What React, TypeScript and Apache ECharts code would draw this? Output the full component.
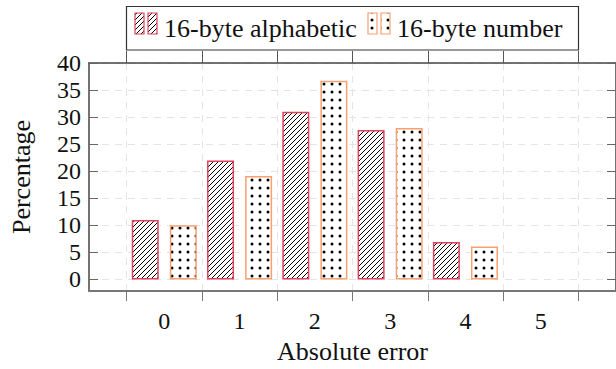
import React, { useEffect, useRef } from "react";
import * as echarts from "echarts";

const categories = [0, 1, 2, 3, 4, 5];
const alphabetic = [11, 22, 31, 27.6, 6.9, 0];
const numberVals = [10, 19.1, 36.7, 28, 6.1, 0];
const yTicks = [0, 5, 10, 15, 20, 25, 30, 35, 40];
const xBoundaries = [-0.5, 0.5, 1.5, 2.5, 3.5, 4.5, 5.5];
const seriesNames = ["16-byte alphabetic", "16-byte number"];

const RED = "#e0405a";
const ORANGE = "#f8a070";
const FONT = "Liberation Serif";

function hatchCanvas() {
  const c = document.createElement("canvas");
  const s = 5;
  c.width = s;
  c.height = s;
  const ctx = c.getContext("2d")!;
  ctx.fillStyle = "#ffffff";
  ctx.fillRect(0, 0, s, s);
  ctx.strokeStyle = "#000000";
  ctx.lineWidth = 1;
  ctx.beginPath();
  ctx.moveTo(-1, s + 1);
  ctx.lineTo(s + 1, -1);
  ctx.moveTo(-1, 1);
  ctx.lineTo(1, -1);
  ctx.moveTo(s - 1, s + 1);
  ctx.lineTo(s + 1, s - 1);
  ctx.stroke();
  return c;
}

function dotCanvas() {
  const c = document.createElement("canvas");
  const s = 8;
  c.width = s;
  c.height = s;
  const ctx = c.getContext("2d")!;
  ctx.fillStyle = "#ffffff";
  ctx.fillRect(0, 0, s, s);
  ctx.fillStyle = "#000000";
  ctx.beginPath();
  ctx.arc(4, 4, 1.5, 0, Math.PI * 2);
  ctx.fill();
  return c;
}

export default function App() {
  const ref = useRef<HTMLDivElement>(null);
  useEffect(() => {
    if (!ref.current) return;
    const chart = echarts.init(ref.current, undefined, { renderer: "svg" });
    const hatch = { image: hatchCanvas(), repeat: "repeat" } as any;
    const dots = { image: dotCanvas(), repeat: "repeat" } as any;

    const toData = (vals: number[]) =>
      categories
        .map((c, i) => [c, vals[i]])
        .filter((d) => d[1] !== 0);

    const gridLine = {
      show: true,
      lineStyle: { color: "#e4e4e4", type: [7, 6] as any, width: 1 },
    };

    const legendText = (x: number, text: string) => ({
      type: "text",
      x,
      y: 28,
      style: {
        text,
        fontFamily: FONT,
        fontSize: 26,
        fill: "#111111",
        verticalAlign: "middle",
      },
      z: 101,
    });

    const legendIcon = (x: number, fill: any, stroke: string) => ({
      type: "rect",
      shape: { x, y: 13, width: 9, height: 21 },
      style: { fill, stroke, lineWidth: 1.2 },
      z: 101,
    });

    chart.setOption({
      animation: false,
      backgroundColor: "#ffffff",
      textStyle: { fontFamily: FONT },
      grid: { left: 89, right: 0, top: 63, bottom: 69, show: false },
      xAxis: [
        {
          type: "value",
          position: "bottom",
          min: -1,
          max: 6,
          axisLine: { show: true, onZero: false, lineStyle: { color: "#777777", width: 2 } },
          axisTick: {
            show: true,
            customValues: xBoundaries,
            inside: false,
            length: 10,
            lineStyle: { color: "#777777", width: 1 },
          },
          axisLabel: {
            customValues: categories,
            fontFamily: FONT,
            fontSize: 24,
            color: "#111111",
            margin: 18,
          },
          splitLine: gridLine,
          name: "Absolute error",
          nameLocation: "middle",
          nameGap: 38,
          nameTextStyle: { fontFamily: FONT, fontSize: 26, color: "#111111" },
        },
        {
          type: "value",
          position: "top",
          min: -1,
          max: 6,
          axisLine: { show: true, onZero: false, lineStyle: { color: "#444444", width: 1.5 } },
          axisTick: {
            show: true,
            customValues: xBoundaries,
            inside: false,
            length: 12,
            lineStyle: { color: "#555555", width: 1 },
          },
          axisLabel: { show: false },
          splitLine: { show: false },
        },
      ],
      yAxis: [
        {
          type: "value",
          position: "left",
          min: -2.15,
          max: 40,
          axisLine: { show: true, onZero: false, lineStyle: { color: "#444444", width: 1.5 } },
          axisTick: {
            show: true,
            customValues: yTicks,
            inside: true,
            length: 9,
            lineStyle: { color: "#666666", width: 1 },
          },
          axisLabel: {
            customValues: yTicks,
            fontFamily: FONT,
            fontSize: 24,
            color: "#111111",
            margin: 8,
          },
          splitLine: gridLine,
          name: "Percentage",
          nameLocation: "middle",
          nameRotate: 90,
          nameGap: 55,
          nameTextStyle: { fontFamily: FONT, fontSize: 26, color: "#111111" },
        },
        {
          type: "value",
          position: "right",
          min: -2.15,
          max: 40,
          axisLine: { show: true, onZero: false, lineStyle: { color: "#444444", width: 1.5 } },
          axisTick: {
            show: true,
            customValues: yTicks,
            inside: true,
            length: 9,
            lineStyle: { color: "#666666", width: 1 },
          },
          axisLabel: { show: false },
          splitLine: { show: false },
        },
      ],
      series: [
        {
          name: seriesNames[0],
          type: "bar",
          xAxisIndex: 0,
          yAxisIndex: 0,
          barWidth: 27,
          barGap: "41%",
          data: toData(alphabetic),
          itemStyle: { color: hatch, borderColor: RED, borderWidth: 1.5 },
        },
        {
          name: seriesNames[1],
          type: "bar",
          xAxisIndex: 0,
          yAxisIndex: 0,
          barWidth: 27,
          barGap: "41%",
          data: toData(numberVals),
          itemStyle: { color: dots, borderColor: ORANGE, borderWidth: 1.5 },
        },
      ],
      graphic: [
        {
          type: "rect",
          shape: { x: 126.5, y: 6.5, width: 452, height: 43.5 },
          style: { fill: "#ffffff", stroke: "#333333", lineWidth: 1.2 },
          z: 100,
        },
        legendIcon(135, hatch, RED),
        legendIcon(148, hatch, RED),
        legendText(164, seriesNames[0]),
        legendIcon(368, dots, ORANGE),
        legendIcon(381, dots, ORANGE),
        legendText(397, seriesNames[1]),
      ],
    });
    return () => chart.dispose();
  }, []);
  return <div ref={ref} style={{ width: 616, height: 369, position: "absolute", left: 0, top: 0 }} />;
}
